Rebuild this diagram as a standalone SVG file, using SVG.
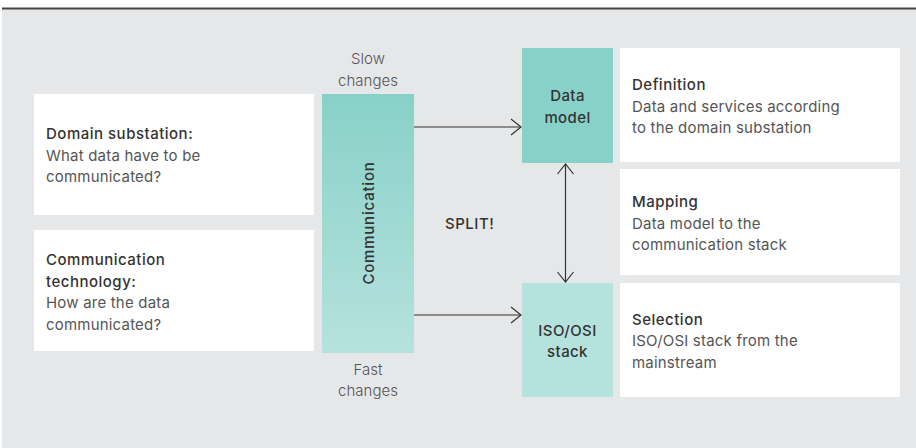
<svg xmlns="http://www.w3.org/2000/svg" width="916" height="448" viewBox="0 0 916 448">
<defs>
<linearGradient id="commGrad" x1="0" y1="0" x2="0" y2="1">
<stop offset="0" stop-color="#88d1c8"/>
<stop offset="1" stop-color="#b6e2dd"/>
</linearGradient>
<marker id="open" markerWidth="12" markerHeight="18" refX="11" refY="9" orient="auto-start-reverse" markerUnits="userSpaceOnUse">
<path d="M1,1 L11,9 L1,17" fill="none" stroke="#333" stroke-width="1.2"/>
</marker>
<style>
text{font-family:Inter,"Liberation Sans",sans-serif;font-size:15px}
.t{fill:#333;font-weight:500;letter-spacing:0.5px}
.b{fill:#555;font-weight:400;letter-spacing:0.2px}
.c{fill:#555;font-weight:300;text-anchor:middle}
.m{fill:#333;font-weight:500;text-anchor:middle;letter-spacing:0.4px}
.card{fill:#fff}
.conn{stroke:#333;stroke-width:1.2;fill:none}
</style>
</defs>
<rect x="0" y="0" width="916" height="448" fill="#fff"/>
<rect x="2" y="9" width="914" height="439" fill="#e6e7e9"/>
<line x1="2" y1="8.5" x2="916" y2="8.5" stroke="#444" stroke-width="2"/>

<g id="domain">
<rect class="card" x="34" y="94" width="280" height="121"/>
<text class="t" x="46" y="139">Domain substation:</text>
<text class="b" x="46" y="161">What data have to be</text>
<text class="b" x="46" y="182">communicated?</text>
</g>
<g id="technology">
<rect class="card" x="34" y="230" width="280" height="121"/>
<text class="t" x="46" y="265">Communication</text>
<text class="t" x="46" y="287">technology:</text>
<text class="b" x="46" y="308">How are the data</text>
<text class="b" x="46" y="330">communicated?</text>
</g>
<g id="communication">
<rect x="322" y="94" width="92" height="259" fill="url(#commGrad)"/>
<text class="m" style="letter-spacing:0.8px" transform="translate(374,223) rotate(-90)">Communication</text>
</g>
<g id="slow">
<text class="c" x="368" y="64">Slow</text>
<text class="c" x="368" y="86">changes</text>
</g>
<g id="fast">
<text class="c" x="368" y="375">Fast</text>
<text class="c" x="368" y="396">changes</text>
</g>
<g id="split">
<text class="t" x="445" y="229">SPLIT!</text>
</g>
<g id="datamodel">
<rect x="522" y="48" width="91" height="115" fill="#88d1c8"/>
<text class="m" x="567.5" y="101">Data</text>
<text class="m" x="567.5" y="123">model</text>
</g>
<g id="isoosi">
<rect x="522" y="283" width="91" height="114" fill="#b5e2dd"/>
<text class="m" x="567.5" y="336">ISO/OSI</text>
<text class="m" x="567.5" y="357">stack</text>
</g>
<g id="definition">
<rect class="card" x="620" y="48" width="280" height="114"/>
<text class="t" x="632" y="90">Definition</text>
<text class="b" x="632" y="112">Data and services according</text>
<text class="b" x="632" y="133">to the domain substation</text>
</g>
<g id="mapping">
<rect class="card" x="620" y="169" width="280" height="106"/>
<text class="t" x="632" y="207">Mapping</text>
<text class="b" x="632" y="229">Data model to the</text>
<text class="b" x="632" y="250">communication stack</text>
</g>
<g id="selection">
<rect class="card" x="620" y="283" width="280" height="114"/>
<text class="t" x="632" y="325">Selection</text>
<text class="b" x="632" y="346">ISO/OSI stack from the</text>
<text class="b" x="632" y="368">mainstream</text>
</g>

<g id="connectors">
<line class="conn" x1="414" y1="127" x2="521" y2="127" marker-end="url(#open)"/>
<line class="conn" x1="414" y1="315" x2="521" y2="315" marker-end="url(#open)"/>
<line class="conn" x1="565.5" y1="164" x2="565.5" y2="282" marker-start="url(#open)" marker-end="url(#open)"/>
</g>
</svg>
